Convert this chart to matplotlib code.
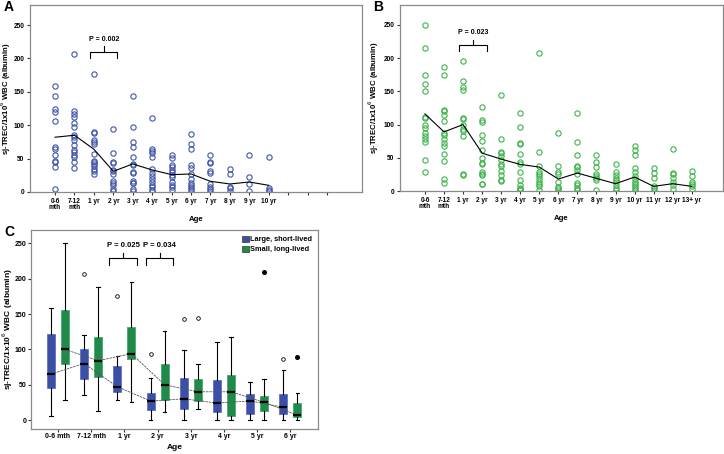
import numpy as np
import matplotlib
matplotlib.use("Agg")
import matplotlib.pyplot as plt
from matplotlib.patches import Patch

plt.rcParams['font.family'] = ['Liberation Sans', 'DejaVu Sans']

# ---- panel A: large, short-lived (scatter + mean line)
a_labels = ['0-6\nmth', '7-12\nmth', '1 yr', '2 yr', '3 yr', '4 yr', '5 yr',
            '6 yr', '7 yr', '8 yr', '9 yr', '10 yr', '', '', '']
a_points = [
    [158, 144, 125, 120, 107, 67, 64, 55, 47, 45, 37, 5],
    [207, 121, 117, 112, 104, 97, 86, 83, 78, 70, 63, 60, 56, 52, 45, 36],
    [176, 90, 88, 78, 75, 72, 57, 47, 45, 42, 39, 35, 31, 27],
    [95, 59, 45, 43, 33, 31, 27, 17, 13, 10, 5, 1],
    [144, 98, 75, 67, 53, 42, 40, 30, 28, 16, 14, 13, 5, 2],
    [111, 65, 62, 59, 52, 34, 28, 24, 20, 15, 11, 7, 3, 1],
    [55, 51, 40, 37, 33, 30, 26, 23, 15, 11, 8, 3],
    [87, 72, 64, 40, 36, 27, 19, 14, 11, 8, 5, 2],
    [56, 45, 43, 31, 29, 12, 7, 4, 1],
    [34, 27, 8, 6, 1],
    [56, 22, 12, 1],
    [52, 6, 3, 1],
]
a_mean = [82, 85, 64, 31, 42, 33, 26, 27, 16, 12, 15, 10]

# ---- panel B: small, long-lived
b_labels = ['0-6\nmth', '7-12\nmth', '1 yr', '2 yr', '3 yr', '4 yr', '5 yr',
            '6 yr', '7 yr', '8 yr', '9 yr', '10 yr', '11 yr', '12 yr', '13+ yr']
b_points = [
    [250, 215, 175, 161, 151, 112, 110, 99, 95, 87, 83, 78, 74, 46, 29],
    [187, 175, 122, 120, 115, 106, 88, 85, 78, 73, 67, 55, 45, 18, 12],
    [195, 166, 157, 152, 110, 108, 99, 94, 90, 83, 26, 24],
    [126, 107, 104, 84, 75, 62, 49, 42, 40, 29, 26, 24, 11, 10],
    [144, 79, 59, 57, 53, 47, 40, 37, 30, 24, 17, 15],
    [118, 96, 73, 71, 55, 43, 41, 28, 17, 9, 5, 3, 1],
    [207, 58, 37, 29, 26, 22, 18, 14, 11, 8, 1],
    [88, 38, 28, 26, 14, 6, 4, 1],
    [117, 74, 54, 38, 36, 32, 26, 12, 9, 4, 1],
    [54, 43, 36, 25, 22, 19, 17, 1],
    [41, 29, 24, 19, 17, 13, 9, 4, 1],
    [67, 62, 54, 34, 29, 22, 18, 14, 10, 7, 4, 1],
    [35, 27, 20, 7, 4, 1],
    [63, 27, 25, 20, 13, 9, 3],
    [30, 23, 14, 11, 7, 3],
]
b_mean = [116, 89, 100, 57, 48, 40, 36, 18, 27, 19, 11, 21, 7, 11, 7]

# ---- panel C: boxplots
c_labels = ['0-6 mth', '7-12 mth', '1 yr', '2 yr', '3 yr', '4 yr', '5 yr', '6 yr']
blue_med = [65, 80, 47, 27, 30, 24, 27, 18]
blue_q1 = [46, 58, 39, 14, 16, 12, 9, 8]
blue_q3 = [122, 100, 76, 38, 60, 56, 37, 37]
blue_lo = [5, 35, 28, 0, 0, 0, 0, 0]
blue_hi = [158, 121, 90, 59, 99, 110, 54, 71]
blue_out = [[], [207], [175], [94], [143], [], [], [86]]
green_med = [100, 84, 94, 50, 40, 40, 25, 7]
green_q1 = [80, 61, 87, 29, 27, 6, 13, 4]
green_q3 = [156, 117, 132, 80, 58, 64, 34, 24]
green_lo = [29, 13, 25, 11, 16, 0, 0, 0]
green_hi = [250, 188, 195, 126, 80, 118, 58, 38]
green_out = [[], [], [], [], [145], [], [], []]
green_ext = [[], [], [], [], [], [], [209], [89]]

BLUE = '#3c4fa6'
GREEN = '#1f8a4a'
SC_BLUE = '#4055a8'
SC_GREEN = '#3cb44a'
SPINE = '#8a8a8a'
TICKFS = 4.7
LABFS = 5.6
YLAB = 'sj-TREC/1x10$^6$ WBC (albumin)'


def style_axes(ax, fs=TICKFS, length=2.5, pad=1.5):
    for s in ax.spines.values():
        s.set_color(SPINE)
        s.set_linewidth(0.9)
    ax.tick_params(axis='both', length=length, width=0.8, color='#333333',
                   labelsize=fs, pad=pad)
    for t in ax.get_xticklabels() + ax.get_yticklabels():
        t.set_fontweight('bold')


def bracket(ax, x0, x1, ybot, ytop, yspike, ytext, text, fs=5.0):
    xc = (x0 + x1) / 2
    ax.plot([x0, x0, x1, x1], [ybot, ytop, ytop, ybot], color='black', lw=0.8,
            solid_joinstyle='round', clip_on=False)
    ax.plot([xc, xc], [ytop, yspike], color='black', lw=0.8, clip_on=False)
    ax.text(xc, ytext, text, ha='center', va='center', fontsize=fs,
            fontweight='bold')


def scatter_panel(ax, labels, points, means, color, ylab_x):
    for i, vals in enumerate(points):
        ax.plot([i] * len(vals), vals, linestyle='none', marker='o',
                markersize=3.8, markerfacecolor='none', markeredgecolor=color,
                markeredgewidth=0.8)
    ax.plot(range(len(means)), means, color='black', lw=0.8)
    ax.set_xticks(range(len(labels)))
    ax.set_xticklabels(labels, linespacing=0.95)
    ax.set_yticks([0, 50, 100, 150, 200, 250])
    ax.set_ylim(0, 280)
    ax.set_xlabel('Age', fontsize=LABFS, fontweight='bold')
    ax.xaxis.set_label_coords(0.5, -0.13)
    ax.set_ylabel(YLAB, fontsize=LABFS, fontweight='bold')
    ax.yaxis.set_label_coords(ylab_x, 0.5)
    style_axes(ax)


fig = plt.figure(figsize=(7.24, 4.54), dpi=100)

axA = fig.add_axes([30 / 724, 1 - 192 / 454, 332 / 724, 187 / 454])
scatter_panel(axA, a_labels, a_points, a_mean, SC_BLUE, -0.051)
axA.set_xlim(-1.29, 15.8)
bracket(axA, 1.81, 3.2, 200, 210, 219, 229, 'P = 0.002')

axB = fig.add_axes([400 / 724, 1 - 191 / 454, 323 / 724, 186 / 454])
scatter_panel(axB, b_labels, b_points, b_mean, SC_GREEN, -0.058)
axB.set_xlim(-1.31, 15.64)
bracket(axB, 1.8, 3.24, 211, 220, 228, 239, 'P = 0.023')

axC = fig.add_axes([30.7 / 724, 1 - 429 / 454, 287.3 / 724, 199 / 454])
pos = np.arange(len(c_labels))
off = 0.21
wid = 0.24


def box_stats(med, q1, q3, lo, hi, out):
    return [dict(med=med[i], q1=q1[i], q3=q3[i], whislo=lo[i], whishi=hi[i],
                 fliers=out[i]) for i in range(len(med))]


common = dict(widths=wid, patch_artist=True, showfliers=True,
              medianprops=dict(color='black', lw=1.6),
              whiskerprops=dict(color='black', lw=0.8),
              capprops=dict(color='black', lw=0.8),
              flierprops=dict(marker='o', markersize=2.6, markerfacecolor='none',
                              markeredgecolor='black', markeredgewidth=0.6))
bb = axC.bxp(box_stats(blue_med, blue_q1, blue_q3, blue_lo, blue_hi, blue_out),
             positions=pos - off, **common)
gb = axC.bxp(box_stats(green_med, green_q1, green_q3, green_lo, green_hi, green_out),
             positions=pos + off, **common)
for b in bb['boxes']:
    b.set_facecolor(BLUE)
    b.set_edgecolor('#6272c0')
    b.set_linewidth(0.6)
for b in gb['boxes']:
    b.set_facecolor(GREEN)
    b.set_edgecolor('#4aa86e')
    b.set_linewidth(0.6)
for c in bb['caps'] + gb['caps']:
    xd = c.get_xdata()
    m = (xd[0] + xd[1]) / 2
    c.set_xdata([m - wid * 0.22, m + wid * 0.22])
for i, vals in enumerate(green_ext):
    if vals:
        axC.plot([pos[i] + off] * len(vals), vals, linestyle='none', marker='o',
                 markersize=2.6, color='black')

axC.plot(pos - off, blue_med, color='#555555', lw=0.6, linestyle=(0, (3, 1)))
axC.plot(pos + off, green_med, color='#555555', lw=0.6, linestyle=(0, (3, 1)))

axC.set_xlim(-0.82, 7.83)
axC.set_ylim(-12.7, 269)
axC.set_xticks(pos)
axC.set_xticklabels(c_labels)
axC.set_yticks([0, 50, 100, 150, 200, 250])
axC.set_xlabel('Age', fontsize=6.0, fontweight='bold')
axC.xaxis.set_label_coords(0.5, -0.075)
axC.set_ylabel(YLAB, fontsize=6.0, fontweight='bold')
axC.yaxis.set_label_coords(-0.053, 0.5)
style_axes(axC, fs=5.0, length=2.0, pad=1.0)
bracket(axC, 1.55, 2.37, 220, 229, 237, 247, 'P = 0.025', fs=5.5)
bracket(axC, 2.65, 3.47, 220, 229, 237, 247, 'P = 0.034', fs=5.5)

leg = axC.legend(handles=[Patch(facecolor=BLUE, edgecolor='#333333', lw=0.5,
                                label='Large, short-lived'),
                          Patch(facecolor=GREEN, edgecolor='#333333', lw=0.5,
                                label='Small, long-lived')],
                 loc='upper right', frameon=False, fontsize=5.3,
                 handlelength=0.9, handleheight=0.9, handletextpad=0.2,
                 labelspacing=0.3, borderaxespad=0.4)
for t in leg.get_texts():
    t.set_fontweight('bold')

fig.text(4 / 724, 1 - 7 / 454, 'A', fontsize=10, fontweight='bold', va='center')
fig.text(373 / 724, 1 - 7 / 454, 'B', fontsize=10, fontweight='bold', va='center')
fig.text(4 / 724, 1 - 232 / 454, 'C', fontsize=10, fontweight='bold', va='center')

fig.savefig('out.png', dpi=100)
